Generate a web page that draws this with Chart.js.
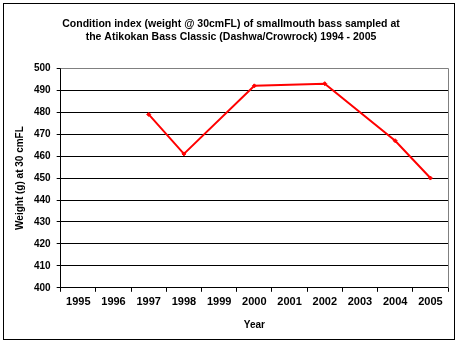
<!DOCTYPE html>
<html>
<head>
<meta charset="utf-8">
<script src="https://cdn.jsdelivr.net/npm/chart.js@4.4.1/dist/chart.umd.min.js"></script>
<style>
  html, body { margin: 0; padding: 0; background: #fff; }
  #wrap { width: 459px; height: 345px; position: relative; }
</style>
</head>
<body>
<div id="wrap"><canvas id="chart"></canvas></div>
<script>
// --- data ---
const years = ['1995', '1996', '1997', '1998', '1999', '2000', '2001', '2002', '2003', '2004', '2005'];
const weights = [null, null, 479, 461, null, 492, null, 493, null, 467, 450];
const titleLines = [
    'Condition index (weight @ 30cmFL) of smallmouth bass sampled at',
    'the Atikokan Bass Classic (Dashwa/Crowrock) 1994 - 2005'
];
const yMin = 400;
const yMax = 500;
const yStep = 10;

const FONT = '"Liberation Sans", Arial, sans-serif';

// frame round the whole chart plus the grey plot-area edges (top and right)
const framePlugin = {
    id: 'frame',
    afterDraw(chart) {
        const ctx = chart.ctx;
        const a = chart.chartArea;
        ctx.save();
        ctx.strokeStyle = '#000';
        ctx.lineWidth = 1;
        ctx.strokeRect(3.5, 3.5, 451, 336);
        ctx.strokeStyle = '#808080';
        ctx.beginPath();
        ctx.moveTo(a.left, Math.round(a.top) + 0.5);
        ctx.lineTo(Math.round(a.right) + 0.5, Math.round(a.top) + 0.5);
        ctx.lineTo(Math.round(a.right) + 0.5, a.bottom);
        ctx.stroke();
        ctx.restore();
    }
};

new Chart(document.getElementById('chart'), {
    type: 'line',
    data: {
        labels: years,
        datasets: [{
            data: weights,
            borderColor: '#ff0000',
            backgroundColor: '#ff0000',
            borderWidth: 2,
            pointRadius: 2,
            pointStyle: 'rectRot',
            pointBorderWidth: 1,
            spanGaps: true,
            tension: 0
        }]
    },
    options: {
        responsive: true,
        maintainAspectRatio: false,
        animation: false,
        layout: { padding: { top: 4, right: 11, bottom: 14, left: 14 } },
        scales: {
            x: {
                offset: true,
                grid: {
                    offset: true,
                    drawOnChartArea: false,
                    drawTicks: true,
                    tickLength: 4,
                    color: '#000'
                },
                border: { color: '#000', width: 1 },
                ticks: {
                    color: '#000',
                    font: { family: FONT, size: 11, weight: 'bold' },
                    padding: 4,
                    maxRotation: 0,
                    autoSkip: false
                },
                title: {
                    display: true,
                    text: 'Year',
                    color: '#000',
                    font: { family: FONT, size: 10, weight: 'bold' },
                    padding: { top: 6, bottom: 0 }
                }
            },
            y: {
                min: yMin,
                max: yMax,
                grid: {
                    color: (c) => (c.tick && c.tick.value === yMax ? '#808080' : '#000'),
                    tickColor: '#000',
                    tickLength: 4
                },
                border: { color: '#000', width: 1 },
                ticks: {
                    stepSize: yStep,
                    color: '#000',
                    font: { family: FONT, size: 10, weight: 'bold' },
                    padding: 6
                },
                title: {
                    display: true,
                    text: 'Weight (g) at 30 cmFL',
                    color: '#000',
                    font: { family: FONT, size: 10, weight: 'bold' },
                    padding: { top: 0, bottom: 2 }
                }
            }
        },
        plugins: {
            legend: { display: false },
            tooltip: { enabled: false },
            title: {
                display: true,
                text: titleLines,
                color: '#000',
                font: { family: FONT, size: 10.5, weight: 'bold', lineHeight: 1.3 },
                padding: { top: 13, bottom: 24 }
            }
        }
    },
    plugins: [framePlugin]
});
</script>
</body>
</html>
